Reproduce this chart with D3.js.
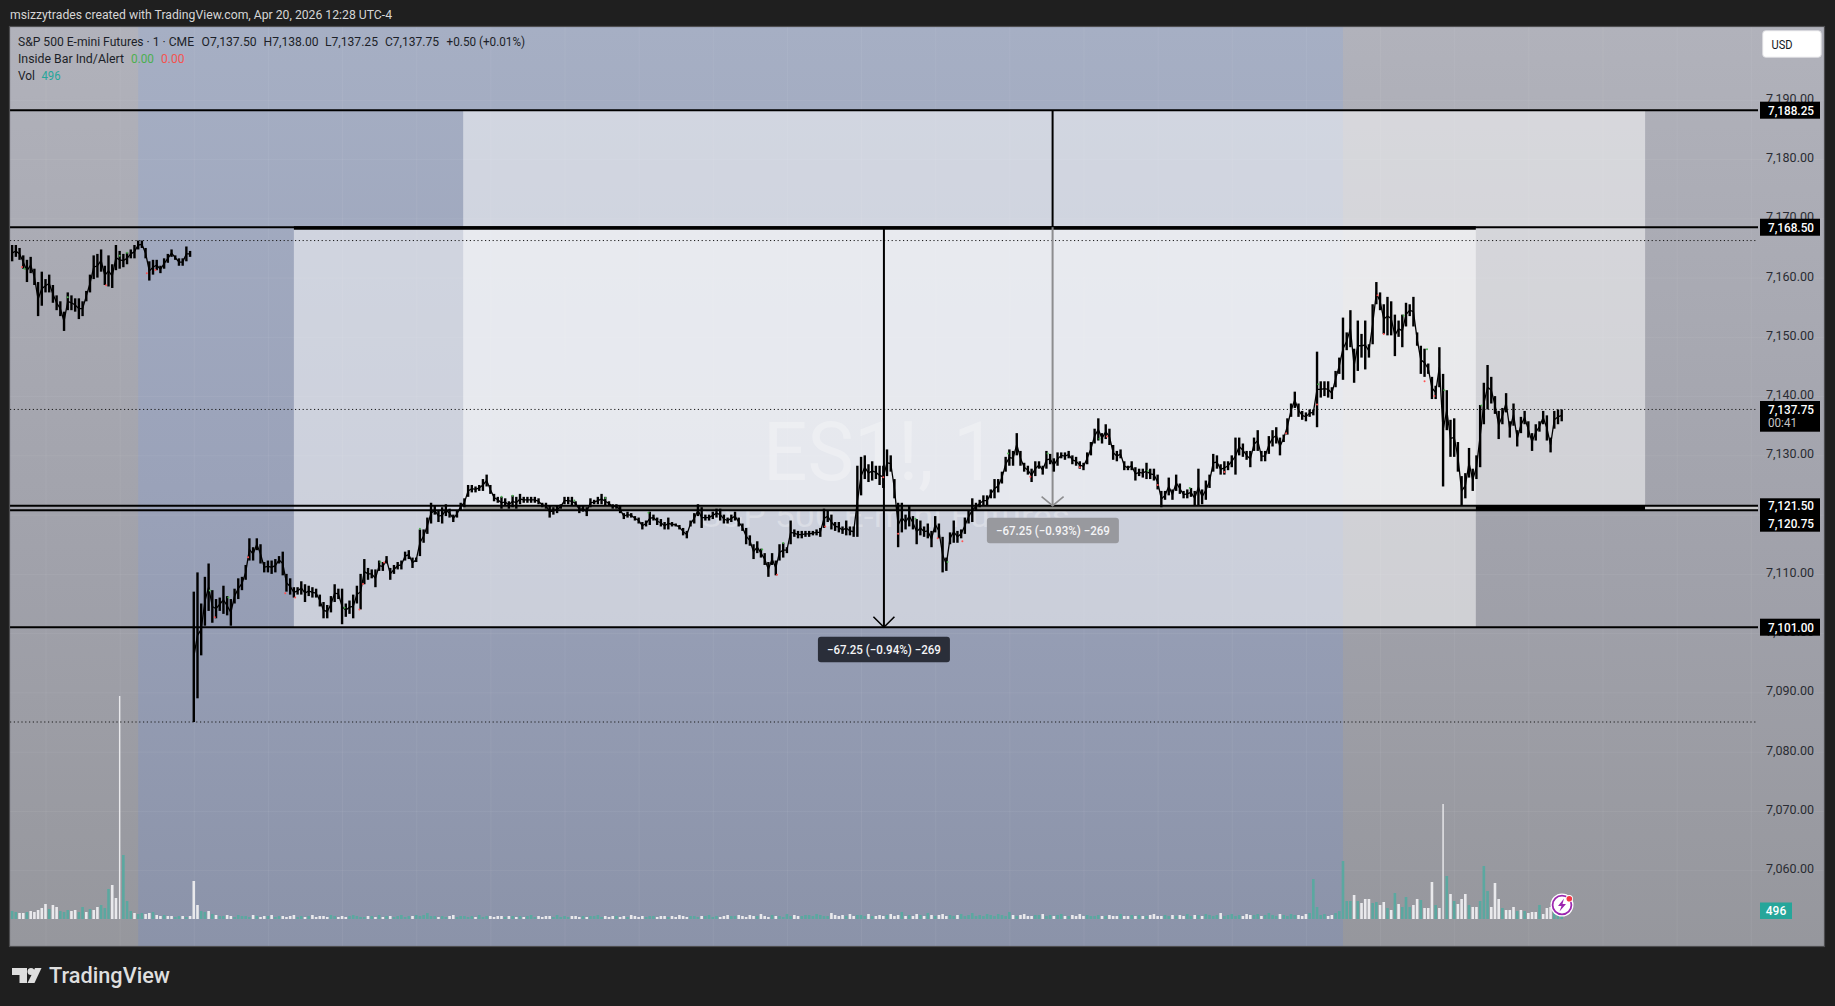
<!DOCTYPE html>
<html>
<head>
<meta charset="utf-8">
<script src="https://cdn.jsdelivr.net/npm/d3@7"></script>
<style>
  html, body { margin: 0; padding: 0; background: #1f1f1f; overflow: hidden; }
  text { font-family: Roboto, "Noto Sans", sans-serif; }
  .domain { display: none; }
</style>
</head>
<body>
<div id="chart"></div>
<script>

// prices are stored as distance from priceBase, one [high, low] pair per 3 minutes
var priceBase = 7100
var firstMinute = -27 // minutes after 15:00 on the 17th
var barStep = 3
var sessionOpenMinute = 120

var priceRanges = [
  [65.5,62.75],[65.5,63.5],[65,63],[63.75,61.5],[63,59.25],[63.5,60.75],[61.5,58.75],[59.25,53.5],[61,55.25],[59.75,57.5],
  [60.5,57.5],[58.75,55.75],[57,54.5],[56,53.5],[54.25,51],[57.5,54.5],[57,54.5],[56.5,54.25],[56.5,53],[56,53.5],
  [57.75,56],[60.5,57.5],[63.75,59.75],[64,60],[64.75,61],[62,58.75],[63.75,58.5],[62.25,58.25],[65.5,61.25],[64.5,61.5],
  [64,61.75],[64.25,62.25],[64.75,63.25],[65.5,63.25],[66.25,64.75],[66.25,65],[65,63.25],[62.75,59.5],[63,60.5],[63,61.25],
  [62,60.75],[63.25,61.5],[64,62.5],[64.75,63.5],[63.75,63],[63.25,62],[63.25,62],[65.25,62.75],[64.5,63.5],
  // 18:00 open
  [7,-15],[10.25,-11],[5,-3.75],[9.5,1.25],[11.75,3.75],
  [7.25,1.75],[5.75,2.5],[6,3.75],[8,3.25],[6.25,3],[5.75,1.25],[7.5,5],[9.25,5.75],[9.5,7.25],[11.5,9],
  [16,12.25],[14.5,12.25],[16,14],[15,11.75],[12,10.25],[12.25,10.25],[12.25,10],[12.5,10.25],[13,11.75],[13.75,9.75],
  [10,7],[9.25,6.5],[7.75,6],[7.75,6.5],[8.75,6.5],[8.25,5.25],[8,6.25],[7.75,6],[7.5,6],[6.5,4.5],
  [5.25,2.5],[4.75,2.5],[6.25,3.5],[8.25,5.25],[7.5,5.75],[7.5,1.5],[5,2.75],[5.5,3.25],[6.5,2.5],[8,5],
  [10,4],[12.5,8.25],[11,9],[10.75,9.25],[10.75,7.75],[12.25,10.5],[12,10.5],[13,11.75],[11,9],[11.5,10],
  [12,10.75],[12.25,10.75],[13.75,12.25],[14,12.5],[12.75,11],[12.75,12],[17.5,13],[17.5,15.25],[19.5,16.75],[22,18.5],
  [21.5,20],[20.75,18.75],[21.25,18.5],[21.75,19.75],[21,19.5],[20,18.75],[20.75,19.5],[22,20.75],[22.75,21.25],[25,23],
  // from m345
  [25,23.75],[24.75,23.75],[25,24],[26,24],[26.75,24.75],[25,23.5],[23.5,22.25],[23,22],[23,21],[22.75,21.5],
  [22.25,21],[23.25,21.25],[23,21],[23.5,21.75],[23,22],[23,22],[23,22],[23,22],[22.75,21.75],[22,21.25],
  [22,21],[21.5,19.5],[21.25,20],[21.5,20.25],[21.75,21],[23,21.75],[23,21.75],[23,21.5],[22.25,21.5],[21.5,20.25],
  [21.5,20.5],[21.25,19.75],[22.75,21.25],[22.5,21.75],[23,21.75],[23.5,21.75],[23,21.5],[22.25,21.5],[21.75,21],[21.75,21],
  [21.5,20.25],[20.25,19.25],[20.5,19.5],[20.25,19.5],[19.75,19],[19.5,18.5],[18.75,17.5],[19,18],[20.5,18.25],[20,19],
  [19.5,18.25],[19.25,18],[18.75,17.5],[19.5,17.5],[18.75,18],[18.5,18],[18.25,17.5],[17.75,16.5],[17.25,16],[19,18],
  [20.25,18.5],[21.75,19.75],[21.25,17.75],[20,19],[20,19],[20.5,19.25],[21,19.5],[21,19],[20,18.5],[19.5,18.5],
  [20,18.75],[20.5,19],[19.5,18],[18.5,17.25],[17.75,15],[16.5,14.75],[15,12.5],[15.5,13.5],[14.25,12.75],[13.5,11.5],
  [12,9.5],
  // from m588
  [13.5,11.5],[12.25,9.75],[15,12.25],[15.25,12.75],[14.5,13.5],[19,15],[17.5,16.25],[17.25,16],[17.25,16],[17.25,16.25],
  [17.25,16.25],[17.25,16.5],[17.5,16.5],[17.75,16.25],[21,17.75],[20.75,18.75],[20,17.5],[18.75,17.25],[18.75,17],[18,16.75],
  [19,16.5],[18,16.5],[18,16.25],[28.25,16.25],[29.75,23.25],[30,26],[28.5,25.5],[29,25.75],[28.25,26],[28.25,25],
  [28.25,24.5],[31,26.5],[30,27.25],[26,22.75],[22,14.5],[22,17],[20,17.5],[21.5,18],[19.75,17.5],[19.25,15],
  [19,16.5],[18,16.25],[18.5,16],[17.25,14.5],[19.75,17],[18.5,16],[16.25,10.25],[12.75,10.5],[17,15],[19,15.25],
  [17.25,15.25],[17.5,16],[19.5,16.75],[20.75,18.5],[22.75,18.75],[22,20.75],[22.5,21.25],[23.25,21.5],[23.25,21.5],[24.25,22.75],
  [26,22.75],[26,23.75],[27.25,25.25],[29.75,27.25],[31,28.25],[30.75,28.25],[33.75,30],[30.75,28.25],[28.75,27.25],[28.25,26.75],
  [27.75,25.5],[29,26.5],[29,27.75],[28.25,26.75],[30.75,27.75],[30.25,28.5],[29.5,27.25],[30.5,28.25],[30.5,29.5],[30.5,29.25],
  [30.75,29.5],[30,28.5],[29.75,28.25],[29,27.75],[28.75,27.5],[30.5,28.5],[32.25,30],[34.5,32],[36.25,32.5],[33.75,32],
  [35.25,32.75],[34.5,31.75],[31.75,29.25],[30.75,29],[31,29.5],[29,27.5],[28.25,27.5],[29,27.5],[28,25.75],[27.75,26.5],
  [27.75,26.25],[28.75,26],[27.75,26],[27.75,25.75],[26.75,24.25],[24,21.25],[24,22.5],[26.25,23.25],[24.25,22.5],[26.75,24],
  [25.25,23.5],[24,22.75],[24.25,22.75],[24.5,23],[24,21.5],[27.75,21.5],[24.25,21.75],[25.75,22.5],[26.75,24.5],[30.25,27.25],
  [30,27.75],[28.5,26.75],[29,26.75],[29,27.5],[30,28],[33,26.75],[33,30],
  // from m969
  [32,29.75],[30.75,29.25],[30.75,28],[33,30.75],[34.25,30.75],[30.75,29],[30.75,29],[33.25,30.25],[34.25,31.5],[34.75,32],
  [33,30],[33.5,32.25],[36.25,33.5],[38.75,36.5],[40.75,38],[38.75,36.5],[37.5,36],[37.25,35.75],[37.75,36.5],[37.75,36.75],
  [47.5,34.75],[42.5,39.75],[42.5,40],[42.5,39.75],[41.5,39.5],[44.25,41.5],[46.5,43.75],[53.25,42.75],[50.75,47.75],[54.5,48.25],
  [48,42.25],[52.75,44.25],[50.5,46.5],[52.75,44.5],[48.75,46.5],[55.5,48.75],[59.25,55.5],[57.5,54.5],[55.5,50.5],[56.75,50.25],
  [56,50.25],[53.75,46.75],[52.75,50],[53.75,48.25],[55.75,51.75],[55.5,53.5],[56.75,51.75],[50.75,48.5],[48.5,43.75],[48,43.25],
  [45.5,43.75],[43.25,39.5],[41.75,39.5],[48.25,41.5],[43.75,24.75],[41,34.25],[36,29.75],[36.25,29.75],[32.25,27.25],[26.5,21.5],
  [27,22.75],[31.25,26.25],[27.75,24],[30,26],[38.5,28],[42.25,35.25],[45.25,37.75],[43.25,38.75],[40,37],[37.5,32.75],
  [38,35.25],[40.5,37.25],[35.75,33],[38.75,35],[34.25,31.5],[36.5,33.75],[37.5,35.25],[35.75,33],[33.75,30.75],[35.25,32.5],
  [35.75,34],[37.5,35.25],[36.75,32.5],[33,30.5],[37.5,34.5],[37.75,35.25],[37.75,35.75]
]

// volume bar heights, same 3 minute grid
var volumeEvening = [8,7,6,6,7,8,7,9,11,15,10,14,12,8,7,9,8,9,7,12,7,10,9,12,14,11,
  30,34,21,223,64,18,8,6,5,6,5,6,7,4,3,4,3,3,2,3,3,2,3,
  38,14,8,7,8,5]
var volumeNight = [
  4,3,3,4,3,2,4,3,3,2,4,3,2,3,3,4,2,3,3,2,
  3,4,2,3,2,3,4,2,3,3,2,4,3,2,3,2,3,4,3,2,
  2,3,3,2,4,2,3,3,2,3,4,2,3,3,4,3,4,6,3,3,
  2,3,2,3,4,2,3,3,2,3,2,4,2,3,3,2,3,3,2,3,
  3,2,3,2,3,4,2,3,2,3,3,2,4,2,3,2,3,3,2,3,
  2,3,3,4,2,3,2,3,3,2,3,2,4,3,2,3,2,3,3,2,
  3,3,2,3,2,4,3,2,3,3,2,3,3,4,2,3,2,3,4,3,
  3,4,3,2,4,3,3,5,3,2,4,3,3,2,5,3,4,3,3,4,
  4,3,5,4,3,3,6,4,3,4,3,5,3,4,4,3,5,3,3,4,
  3,4,5,3,4,7,3,4,3,5,4,3,6,4,3,4,5,3,4,3,
  4,5,3,4,6,3,4,3,5,4,3,5,4,3,7,4,3,4,5,3,
  3,4,4,5,3,4,3,4,5,3,3,4,3,5,3,4,3,3,4,3,
  3,4,3,3,5,3,3,4,3,4,3,3,4,5,3,3,4,3,4,3,
  4,3,5,3,4,4,3,5,4,3,4,6,3,4,5,3,4,3,5,4,
  4,5,3,4,6,4,3,5,4,3,5,4,4,3,5,6,40,12,4,5,
  3,4,6,8]
var volumeMorning = [58,18,18,24,18,16,20,20,16,17,14,17,11,9,26,15,12,22,12,14,
  20,19,11,11,37,14,11,115,43,25,18,15,20,25,14,12,12,18,53,28,
  12,36,20,11,9,9,12,8,9,8,6,7,7,14,5,11,12,9,5,8]

// T teal, W white. the night bars take their colour from the price move
var eveningDirs = "TTWWTWWWWWTWWTTTWWTTWTWWTT" + "TWWWTTTWTTWWTWWTWWTTWTW" + "WWTTWT"
var morningDirs = "TTTWTWWWTT" + "WWTWTWTTTW" + "WTWWWTWWTW" + "TWWWTWWTTT" + "WWWTWWWTWT" + "WWWTWWWTTT"

// inside bar markers [minute, price]
var insideUp = [[-17,7161.5],[18,7156.7],[60,7163.7],[66,7164.2],[133,7107.2],[148,7106],[242,7104.3],[271,7112],[303,7117.6],
  [369,7123],[378,7123.2],[428,7122.4],[453,7122.8],[488,7120.3],[580,7114.1],[597,7115.2],[704,7119.3],[730,7112],[779,7130.3],
  [811,7130.3],[853,7132.8],[892,7127.4],[926,7124.5],[1030,7142],[1099,7153.6],[1118,7147.9],[1132,7141],[1162,7138.4]]
var insideDown = [[-19,7161.8],[49,7158.7],[82,7160.75],[89,7161.3],[137,7102.7],[164,7112.8],[194,7106.75],[202,7106],[254,7104],
  [257,7108.3],[274,7111.9],[592,7109.85],[631,7118],[678,7126.3],[690,7116.75],[722,7116],[742,7115.5],[797,7126.4],[837,7128],
  [859,7133.2],[900,7125],[954,7127.2],[1004,7133.75],[1029,7138.6],[1078,7157],[1083,7150.5],[1116,7142.5],[1124,7140]]

var priceTicks = [7190,7180,7170,7160,7150,7140,7130,7120,7110,7100,7090,7080,7070,7060]
var timeTicks = [0,60,120,180,240,300,360,420,480,540,600,660,720,780,840,900,960,1020,1080,1140,1200,1260,1320,1380]
var timeLabels = ["15:00","16:00","19","19:00","20:00","21:00","22:00","23:00","20","01:00","02:00","03:00","04:00","05:00",
  "06:00","07:00","08:00","09:00","10:00","11:00","12:00","13:00","14:00","15:00"]

var levelLines = [7188.25,7168.5,7121.5,7120.75,7101]
var dottedLines = [7166.25,7137.75,7085]
var overnightSession = [75,1050]
var upperBox = {x:[338,1294.5], y:[7188.25,7121.5]}
var lowerBox = {x:[201,1157.5], y:[7168.5,7101]}
var blackMeasureMinute = 678.5
var greyMeasureMinute = 815
var measureText = "\u221267.25 (\u22120.94%) \u2212269"
var greyMeasureText = "\u221267.25 (\u22120.93%) \u2212269"

var width = 1835, height = 1006
var pane = {left:10, right:1824, top:27, bottom:946}
var plotRight = 1758
var volumeBase = 919

var svg = d3.select("#chart").append("svg").attr("width",width).attr("height",height)
  .style("display","block")

var x = d3.scaleLinear().domain([0,1380]).range([45.5, 45.5+1380*1.2357])
var y = d3.scaleLinear().domain([7188.25,7101]).range([110.2,627.2])
var yVol = d3.scaleLinear().domain([0,223]).range([volumeBase,volumeBase-223])

var defs = svg.append("defs")
function gradient(id, stops) {
  var g = defs.append("linearGradient").attr("id",id).attr("x1",0).attr("x2",0).attr("y1",0).attr("y2",1)
  stops.forEach(function(s){ g.append("stop").attr("offset",s[0]).attr("stop-color",s[1]) })
}
gradient("greyBg", [[0,"#b1b2bb"],[0.6,"#a0a1aa"],[1,"#96979d"]])
gradient("blueBg", [[0,"#a6afc4"],[0.5,"#9aa2b9"],[1,"#8b93a9"]])
defs.append("clipPath").attr("id","paneClip").append("rect")
  .attr("x",pane.left).attr("y",pane.top).attr("width",pane.right-pane.left).attr("height",pane.bottom-pane.top)
defs.append("clipPath").attr("id","timeClip").append("rect")
  .attr("x",pane.left).attr("y",volumeBase).attr("width",plotRight-pane.left+1).attr("height",pane.bottom-volumeBase)

function label(parent, px, py, str, fill, size, opts) {
  opts = opts || {}
  var t = parent.append("text").attr("x",px).attr("y",py).attr("fill",fill)
    .attr("font-size",size).text(str)
  if (opts.weight) t.attr("font-weight",opts.weight)
  if (opts.anchor) t.attr("text-anchor",opts.anchor)
  if (opts.len) t.attr("textLength",opts.len).attr("lengthAdjust","spacingAndGlyphs")
  return t
}

// page header
label(svg, 10, 19, "msizzytrades created with TradingView.com, Apr 20, 2026 12:28 UTC-4", "#d6d6d6", 12.5, {len:382})

// pane background
var bg = svg.append("g").attr("clip-path","url(#paneClip)")
bg.append("rect").attr("x",pane.left).attr("y",pane.top).attr("width",pane.right-pane.left).attr("height",pane.bottom-pane.top)
  .attr("fill","url(#greyBg)")
bg.append("rect").attr("x",x(overnightSession[0])).attr("y",pane.top)
  .attr("width",x(overnightSession[1])-x(overnightSession[0])).attr("height",pane.bottom-pane.top)
  .attr("fill","url(#blueBg)")

// grid
var gridX = bg.append("g").attr("transform","translate(0,"+pane.bottom+")")
  .call(d3.axisBottom(x).tickValues(timeTicks).tickSize(-(pane.bottom-pane.top)).tickFormat(""))
var gridY = bg.append("g").attr("transform","translate("+pane.right+",0)")
  .call(d3.axisLeft(y).tickValues(priceTicks).tickSize(pane.right-pane.left).tickFormat(""))
bg.selectAll(".tick line").attr("stroke","rgba(255,255,255,0.06)")

// the two projection boxes
;[upperBox,lowerBox].forEach(function(b){
  bg.append("rect").attr("x",x(b.x[0])).attr("y",y(b.y[0]))
    .attr("width",x(b.x[1])-x(b.x[0])).attr("height",y(b.y[1])-y(b.y[0]))
    .attr("fill","#fff").attr("fill-opacity",0.5)
})

// watermark
label(bg, 763, 480, "ES1!, 1", "rgba(255,255,255,0.28)", 82, {len:234})
label(bg, 700, 527, "S&P 500 E-mini Futures", "rgba(255,255,255,0.28)", 31, {len:370})

// gap between the 7121.50 and 7120.75 lines
var gapTop = y(7121.5), gapH = y(7120.75)-y(7121.5)
bg.append("rect").attr("x",x(upperBox.x[0])).attr("y",gapTop).attr("width",x(lowerBox.x[1])-x(upperBox.x[0])).attr("height",gapH).attr("fill","#8a8a87")
bg.append("rect").attr("x",x(lowerBox.x[1])).attr("y",gapTop).attr("width",x(upperBox.x[1])-x(lowerBox.x[1])).attr("height",gapH).attr("fill","#000")
bg.append("rect").attr("x",x(upperBox.x[1])).attr("y",gapTop).attr("width",plotRight-x(upperBox.x[1])).attr("height",gapH).attr("fill","#c8c8ca")

// volume
var volumes = volumeEvening.concat(volumeNight,volumeMorning)
var bars = priceRanges.map(function(r,i){
  return {minute:firstMinute+i*barStep, high:priceBase+r[0], low:priceBase+r[1], mid:priceBase+(r[0]+r[1])/2, volume:volumes[i]}
})
bars.forEach(function(b,i){
  var dir
  if (i < eveningDirs.length) dir = eveningDirs[i]
  else if (i >= bars.length-morningDirs.length) dir = morningDirs[i-(bars.length-morningDirs.length)]
  else dir = (i>0 && b.mid<bars[i-1].mid) ? "W" : "T"
  b.dir = dir
})
bg.append("g").selectAll("rect").data(bars).enter().append("rect")
  .attr("x",function(d){ return x(d.minute)-(d.volume>100?0.7:1.3) })
  .attr("y",function(d){ return yVol(d.volume||0) })
  .attr("width",function(d){ return d.volume>100?1.4:2.6 })
  .attr("height",function(d){ return volumeBase-yVol(d.volume||0) })
  .attr("fill",function(d){ return d.dir=="W" ? "#e9e9ec" : "#5ba8a0" })

// level lines
bg.append("g").selectAll("line").data(levelLines).enter().append("line")
  .attr("x1",pane.left).attr("x2",plotRight)
  .attr("y1",function(d){ return y(d) }).attr("y2",function(d){ return y(d) })
  .attr("stroke","#000").attr("stroke-width",2)
// lower box top border is heavier
bg.append("rect").attr("x",x(lowerBox.x[0])).attr("y",y(7168.5)-1).attr("width",x(lowerBox.x[1])-x(lowerBox.x[0])).attr("height",3.5).attr("fill","#000")
bg.append("g").selectAll("line").data(dottedLines).enter().append("line")
  .attr("x1",pane.left).attr("x2",plotRight-1)
  .attr("y1",function(d){ return y(d) }).attr("y2",function(d){ return y(d) })
  .attr("stroke","#1a1a1a").attr("stroke-width",1).attr("stroke-dasharray","1.2 2.6")

// measure arrows
var mx = x(greyMeasureMinute)
bg.append("line").attr("x1",mx).attr("x2",mx).attr("y1",y(7188.25)).attr("y2",y(7168.5)).attr("stroke","#000").attr("stroke-width",2)
bg.append("line").attr("x1",mx).attr("x2",mx).attr("y1",y(7168.5)).attr("y2",y(7121.5)).attr("stroke","#8d8d8f").attr("stroke-width",2)
bg.append("path").attr("d","M"+(mx-11)+","+(y(7121.5)-9)+"L"+mx+","+y(7121.5)+"L"+(mx+11)+","+(y(7121.5)-9))
  .attr("fill","none").attr("stroke","#8d8d8f").attr("stroke-width",1.6)
var bx = x(blackMeasureMinute)
bg.append("line").attr("x1",bx).attr("x2",bx).attr("y1",y(7168.5)).attr("y2",y(7101)).attr("stroke","#000").attr("stroke-width",2)
bg.append("path").attr("d","M"+(bx-10.5)+","+(y(7101)-10.5)+"L"+bx+","+y(7101)+"L"+(bx+10.5)+","+(y(7101)-10.5))
  .attr("fill","none").attr("stroke","#000").attr("stroke-width",1.6)

// price bars, the line is broken at the session open
var midLine = d3.line().x(function(d){ return x(d.minute) }).y(function(d){ return y(d.mid) })
;[bars.filter(function(d){ return d.minute<sessionOpenMinute }), bars.filter(function(d){ return d.minute>=sessionOpenMinute })].forEach(function(part){
  bg.append("path").datum(part).attr("d",midLine).attr("fill","none").attr("stroke","#000").attr("stroke-width",1.3)
})
bg.append("g").selectAll("rect").data(bars).enter().append("rect")
  .attr("x",function(d){ return x(d.minute)-1.2 }).attr("width",2.4)
  .attr("y",function(d){ return y(d.high) })
  .attr("height",function(d){ return y(d.low)-y(d.high) })
  .attr("fill","#000")
bg.append("g").selectAll("circle").data(insideUp).enter().append("circle")
  .attr("cx",function(d){ return x(d[0]) }).attr("cy",function(d){ return y(d[1]) }).attr("r",1).attr("fill","#4caf50")
bg.append("g").selectAll("circle").data(insideDown).enter().append("circle")
  .attr("cx",function(d){ return x(d[0]) }).attr("cy",function(d){ return y(d[1]) }).attr("r",1).attr("fill","#ff5252")

// measure tooltips
function tooltip(cx, top, str, fill) {
  bg.append("rect").attr("x",cx-66).attr("y",top).attr("width",132).attr("height",25.5).attr("rx",3).attr("fill",fill)
  label(bg, cx, top+17, str, "#f4f4f6", 12, {anchor:"middle", weight:500, len:114})
}
tooltip(mx+0.3, 517.7, greyMeasureText, "#98999e")
tooltip(bx, 636.7, measureText, "#2a2e39")

// legend
var legendColor = "#1c1f28"
var legendOhlc = [[18,"S&P 500 E-mini Futures \u00b7 1 \u00b7 CME",176],[201.6,"O7,137.50",55],[263.6,"H7,138.00",55],[325,"L7,137.25",53],[385,"C7,137.75",54],[446.6,"+0.50 (+0.01%)",78.5]]
legendOhlc.forEach(function(p){ label(bg, p[0], 46, p[1], legendColor, 12.5, {len:p[2]}) })
label(bg, 18, 63, "Inside Bar Ind/Alert", legendColor, 12.5, {len:106})
label(bg, 131, 63, "0.00", "#4caf50", 12.5, {len:23})
label(bg, 161, 63, "0.00", "#f4534f", 12.5, {len:23.5})
label(bg, 18, 80, "Vol", legendColor, 12.5, {len:17})
label(bg, 41.5, 80, "496", "#26a69a", 12.5, {len:19})

// price axis
var yAxis = bg.append("g").attr("transform","translate(1814,-1)")
  .call(d3.axisLeft(y).tickValues(priceTicks).tickSize(0).tickPadding(0).tickFormat(d3.format(",.2f")))
yAxis.selectAll("text").attr("fill","#2a2c33").attr("font-size",12.5).attr("font-family","Roboto, sans-serif").attr("dy","0.28em")

// time axis
var xAxis = bg.append("g").attr("transform","translate(0,926)").attr("clip-path","url(#timeClip)")
  .call(d3.axisBottom(x).tickValues(timeTicks).tickSize(0).tickPadding(0)
    .tickFormat(function(d,i){ return timeLabels[i] }))
xAxis.selectAll("text").attr("fill","#1f2026").attr("font-size",12.5).attr("font-family","Roboto, sans-serif")
  .attr("font-weight",function(d,i){ return timeLabels[i]=="20" ? 700 : 400 }).attr("dy","0.75em")

// price labels
function priceBox(top, h, lines) {
  bg.append("rect").attr("x",1760).attr("y",top).attr("width",60).attr("height",h).attr("fill","#000")
  lines.forEach(function(l){
    label(bg, 1768, l.y+4.5, l.text, l.fill||"#fff", 12.5, {weight:l.fill?400:500, len:l.text.length>5?46:29})
  })
}
function priceText(v){ return d3.format(",.2f")(v) }
priceBox(y(7188.25)-8.5, 17, [{y:y(7188.25),text:priceText(7188.25)}])
priceBox(y(7168.5)-8.5, 17, [{y:y(7168.5),text:priceText(7168.5)}])
priceBox(401, 30.7, [{y:y(7137.75),text:priceText(7137.75)},{y:422.7,text:"00:41",fill:"#c4c4c4"}])
priceBox(498.3, 33.4, [{y:505.7,text:priceText(7121.5)},{y:523,text:priceText(7120.75)}])
priceBox(y(7101)-8.5, 17, [{y:y(7101),text:priceText(7101)}])

// volume last value
bg.append("rect").attr("x",1760).attr("y",902.5).attr("width",32).attr("height",16.5).attr("fill","#26a69a")
label(bg, 1776, 915, "496", "#fff", 12, {anchor:"middle", weight:500})

// currency button
bg.append("rect").attr("x",1762.7).attr("y",30.7).attr("width",58.5).attr("height",26.6).attr("rx",3).attr("fill","#fff").attr("stroke","#dcdce0")
label(bg, 1771.5, 49, "USD", "#131722", 12, {len:21})

// alert icon on the last bar
var icon = bg.append("g").attr("transform","translate(1562,905)")
icon.append("circle").attr("r",11.5).attr("fill","#fff")
icon.append("circle").attr("r",9.4).attr("fill","#fff").attr("stroke","#9c27b0").attr("stroke-width",1.8)
icon.append("path").attr("d","M2,-6.5 L-4,1 L-0.5,1 L-2.5,6.5 L4,-1 L0.5,-1 Z").attr("fill","#9c27b0")
icon.append("circle").attr("cx",7.3).attr("cy",-6.3).attr("r",3.6).attr("fill","#fff")
icon.append("circle").attr("cx",7.3).attr("cy",-6.3).attr("r",2.8).attr("fill","#f23645")

// pane frame
svg.append("rect").attr("x",pane.left-0.5).attr("y",pane.top-0.5).attr("width",pane.right-pane.left+1).attr("height",pane.bottom-pane.top+1)
  .attr("fill","none").attr("stroke","#4d4d4f").attr("stroke-width",1.2)

// logo
var logo = svg.append("g").attr("fill","#dedede")
logo.append("path").attr("d","M12,968H27V983H19.5V975H12Z")
logo.append("circle").attr("cx",31).attr("cy",971.6).attr("r",3.5)
logo.append("path").attr("d","M35,968H41.5L34.5,983H27.5Z")
label(svg, 49, 983, "TradingView", "#dedede", 21.5, {weight:500, len:121})

</script>
</body>
</html>
